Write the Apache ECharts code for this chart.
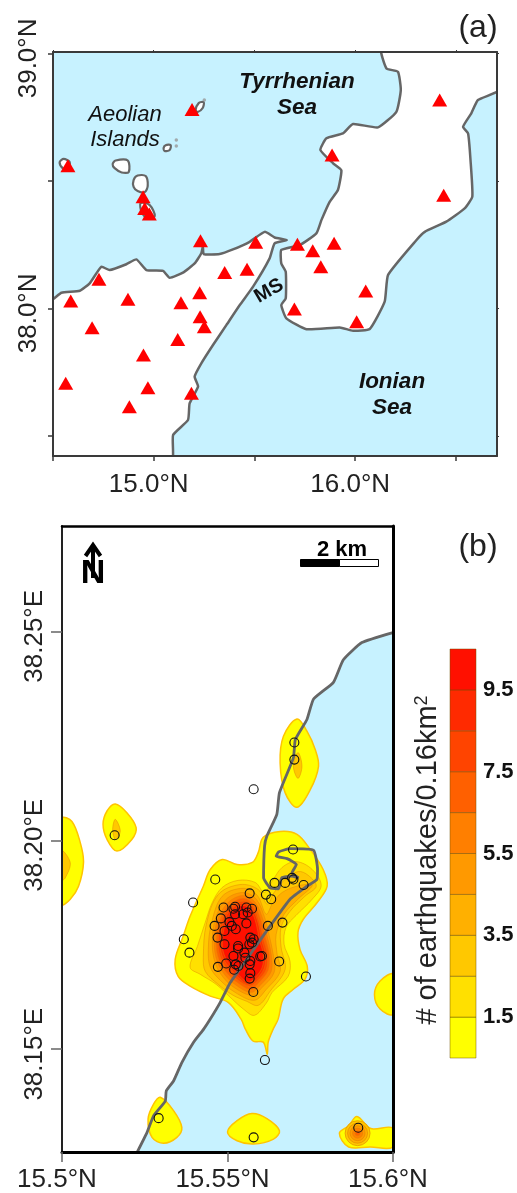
<!DOCTYPE html>
<html><head><meta charset="utf-8">
<style>html,body{margin:0;padding:0;background:#fff}#c{width:517px;height:1193px}</style>
<script src="https://cdn.jsdelivr.net/npm/echarts@6/dist/echarts.min.js"></script>
</head><body><div id="c"></div>
<script>
// ---------- panel (a): regional map ----------
const stationsA = [[16.419,38.817],[16.439,38.444],[15.885,38.601],[15.190,38.780],[14.574,38.559],[14.947,38.438],[14.955,38.392],[14.978,38.370],[15.232,38.265],[15.506,38.259],[15.713,38.251],[15.789,38.226],[15.895,38.255],[15.829,38.163],[16.052,38.068],[15.698,37.997],[16.007,37.947],[14.728,38.114],[14.588,38.029],[14.872,38.036],[15.135,38.022],[15.228,38.061],[15.352,38.141],[15.463,38.153],[15.230,37.967],[15.251,37.928],[15.119,37.878],[14.694,37.924],[14.949,37.817],[14.563,37.706],[14.971,37.689],[15.187,37.667],[14.879,37.614]];
const sicily = [[14.500,38.036],[14.542,38.061],[14.633,38.069],[14.682,38.098],[14.740,38.163],[14.781,38.150],[14.864,38.173],[14.914,38.192],[14.964,38.150],[15.046,38.147],[15.079,38.120],[15.145,38.140],[15.203,38.176],[15.236,38.216],[15.244,38.242],[15.248,38.213],[15.327,38.213],[15.393,38.231],[15.476,38.261],[15.551,38.300],[15.600,38.278],[15.661,38.268],[15.600,38.255],[15.575,38.196],[15.493,38.085],[15.427,38.013],[15.361,37.935],[15.294,37.856],[15.236,37.784],[15.203,37.732],[15.220,37.693],[15.178,37.627],[15.170,37.562],[15.096,37.503],[15.088,37.40],[14.48,37.40],[14.48,38.036]];
const calabria = [[16.130,39.02],[16.155,38.941],[16.212,38.928],[16.226,38.856],[16.204,38.771],[16.113,38.710],[15.989,38.723],[15.939,38.686],[15.857,38.667],[15.827,38.621],[15.890,38.569],[15.931,38.542],[15.914,38.464],[15.873,38.418],[15.832,38.346],[15.807,38.294],[15.724,38.248],[15.633,38.229],[15.633,38.176],[15.655,38.144],[15.655,38.039],[15.633,38.013],[15.658,37.961],[15.758,37.918],[15.923,37.925],[15.989,37.912],[16.072,37.919],[16.146,38.026],[16.163,38.131],[16.304,38.268],[16.345,38.300],[16.452,38.340],[16.543,38.392],[16.581,38.438],[16.572,38.582],[16.560,38.686],[16.535,38.712],[16.576,38.765],[16.609,38.817],[16.720,38.858],[16.720,39.02]];
const islands = [
  [[14.533,38.574],[14.553,38.586],[14.583,38.574],[14.573,38.542],[14.548,38.550]],
  [[14.796,38.566],[14.811,38.580],[14.871,38.580],[14.876,38.535],[14.841,38.533],[14.806,38.550]],
  [[14.900,38.503],[14.920,38.521],[14.960,38.519],[14.970,38.480],[14.955,38.456],[14.920,38.460],[14.900,38.476]],
  [[14.935,38.413],[14.980,38.405],[15.005,38.362],[14.970,38.354],[14.940,38.378]],
  [[15.049,38.629],[15.059,38.640],[15.084,38.640],[15.079,38.621],[15.054,38.617]],
  [[15.208,38.778],[15.223,38.805],[15.248,38.809],[15.243,38.786],[15.218,38.770]]
];
const islets = [[15.112,38.660],[15.112,38.637],[15.251,38.817]];
const xTicksA = [14.5,15,15.5,16,16.5], xLabelsA = [15,16];
const yTicksA = [37.5,38,38.5,39], yLabelsA = [38,39];

// ---------- panel (b): earthquake density ----------
const coastB = [[15.6000,38.2497],[15.5906,38.2473],[15.5850,38.2432],[15.5820,38.2378],[15.5760,38.2338],[15.5740,38.2289],[15.5705,38.2241],[15.5699,38.2197],[15.5657,38.2114],[15.5649,38.2062],[15.5619,38.2010],[15.5612,38.1986],[15.5609,38.1910],[15.5629,38.1886],[15.5654,38.1884],[15.5664,38.1910],[15.5695,38.1914],[15.5715,38.1910],[15.5695,38.1922],[15.5708,38.1942],[15.5680,38.1956],[15.5647,38.1962],[15.5654,38.1972],[15.5689,38.1980],[15.5760,38.1976],[15.5772,38.1930],[15.5770,38.1906],[15.5740,38.1890],[15.5689,38.1859],[15.5629,38.1795],[15.5579,38.1739],[15.5544,38.1699],[15.5508,38.1659],[15.5478,38.1612],[15.5448,38.1572],[15.5428,38.1548],[15.5397,38.1516],[15.5362,38.1468],[15.5337,38.1424],[15.5315,38.1400],[15.5312,38.1376],[15.5277,38.1341],[15.5257,38.1301],[15.5228,38.1255]];
const landCornersB = [[15.49,38.1255],[15.49,38.285],[15.61,38.285],[15.61,38.2497]];
const quakes = [[15.5698,38.1978],[15.5463,38.1906],[15.5642,38.1898],[15.5674,38.1898],[15.5699,38.1906],[15.5695,38.1910],[15.5730,38.1893],[15.5567,38.1873],[15.5616,38.1870],[15.5632,38.1859],[15.5396,38.1851],[15.5488,38.1839],[15.5518,38.1836],[15.5523,38.1841],[15.5523,38.1823],[15.5547,38.1823],[15.5561,38.1827],[15.5557,38.1839],[15.5574,38.1836],[15.5480,38.1813],[15.5506,38.1804],[15.5513,38.1795],[15.5461,38.1795],[15.5525,38.1787],[15.5491,38.1783],[15.5557,38.1801],[15.5622,38.1795],[15.5666,38.1803],[15.5470,38.1767],[15.5569,38.1767],[15.5579,38.1763],[15.5491,38.1751],[15.5566,38.1751],[15.5574,38.1755],[15.5368,38.1763],[15.5385,38.1731],[15.5532,38.1747],[15.5532,38.1741],[15.5518,38.1723],[15.5551,38.1731],[15.5599,38.1722],[15.5604,38.1723],[15.5569,38.1711],[15.5554,38.1719],[15.5656,38.1710],[15.5471,38.1697],[15.5496,38.1705],[15.5525,38.1703],[15.5533,38.1699],[15.5520,38.1690],[15.5567,38.1703],[15.5569,38.1682],[15.5567,38.1669],[15.5737,38.1674],[15.5578,38.1637],[15.5702,38.2234],[15.5702,38.2193],[15.5579,38.2122],[15.5159,38.2012],[15.5613,38.1474],[15.5292,38.1335],[15.5579,38.1289],[15.5895,38.1312]];
const levelColors = ['#FFFF00','#FFE000','#FFC800','#FFB000','#FF9900','#FF7F00','#FF6000','#FF4400','#FF2A00','#FF1000'];
// outer (level 0) patches
const level0 = [
 [[15.5502,38.1612],[15.5448,38.1627],[15.5387,38.1651],[15.5351,38.1674],[15.5342,38.1715],[15.5366,38.1770],[15.5387,38.1818],[15.5427,38.1890],[15.5448,38.1930],[15.5484,38.1954],[15.5529,38.1942],[15.5575,38.1947],[15.5593,38.1971],[15.5608,38.2007],[15.5659,38.2021],[15.5710,38.2014],[15.5750,38.1978],[15.5789,38.1930],[15.5801,38.1890],[15.5771,38.1851],[15.5729,38.1811],[15.5713,38.1780],[15.5719,38.1739],[15.5741,38.1698],[15.5734,38.1667],[15.5698,38.1643],[15.5668,38.1620],[15.5653,38.1572],[15.5638,38.1548],[15.5623,38.1517],[15.5620,38.1488],[15.5608,38.1517],[15.5578,38.1519],[15.5554,38.1548],[15.5541,38.1572]],
 [[15.5710,38.2290],[15.5740,38.2261],[15.5765,38.2217],[15.5775,38.2177],[15.5750,38.2121],[15.5710,38.2079],[15.5674,38.2114],[15.5659,38.2185],[15.5669,38.2249]],
 [[15.5161,38.2087],[15.5196,38.2066],[15.5224,38.2030],[15.5211,38.2002],[15.5166,38.1974],[15.5136,38.2002],[15.5124,38.2038],[15.5136,38.2070]],
 [[15.5000,38.2052],[15.5030,38.2045],[15.5055,38.1995],[15.5065,38.1947],[15.5050,38.1890],[15.5025,38.1859],[15.5000,38.1847]],
 [[15.6000,38.1679],[15.5961,38.1663],[15.5944,38.1631],[15.5961,38.1596],[15.6000,38.1584]],
 [[15.5297,38.1385],[15.5337,38.1353],[15.5362,38.1313],[15.5347,38.1289],[15.5307,38.1275],[15.5272,38.1289],[15.5260,38.1333],[15.5277,38.1369]],
 [[15.5574,38.1346],[15.5619,38.1334],[15.5657,38.1305],[15.5639,38.1285],[15.5579,38.1273],[15.5529,38.1281],[15.5500,38.1302],[15.5529,38.1329]],
 [[15.5891,38.1339],[15.5926,38.1313],[15.5941,38.1309],[15.6000,38.1311],[15.6000,38.1266],[15.5931,38.1266],[15.5866,38.1266],[15.5838,38.1299],[15.5866,38.1317]]
];
const level2patches = [
 [[15.5713,38.2210],[15.5725,38.2177],[15.5713,38.2148],[15.5699,38.2177]],
 [[15.5161,38.2050],[15.5176,38.2022],[15.5161,38.2002],[15.5153,38.2026]],
 [[15.5000,38.1974],[15.5025,38.1946],[15.5010,38.1910],[15.5000,38.1905]]
];
const level1main = [[15.5387,38.1696],[15.5409,38.1746],[15.5433,38.1804],[15.5454,38.1851],[15.5484,38.1887],[15.5532,38.1904],[15.5584,38.1899],[15.5611,38.1875],[15.5635,38.1902],[15.5665,38.1935],[15.5707,38.1949],[15.5756,38.1930],[15.5783,38.1892],[15.5756,38.1859],[15.5707,38.1820],[15.5677,38.1792],[15.5671,38.1751],[15.5689,38.1710],[15.5683,38.1674],[15.5635,38.1636],[15.5617,38.1610],[15.5581,38.1581],[15.5548,38.1596],[15.5514,38.1620],[15.5466,38.1655],[15.5418,38.1679]];
const level2main = [[15.5427,38.1720],[15.5436,38.1799],[15.5472,38.1870],[15.5538,38.1894],[15.5593,38.1882],[15.5620,38.1847],[15.5641,38.1875],[15.5671,38.1904],[15.5713,38.1925],[15.5744,38.1916],[15.5768,38.1890],[15.5734,38.1866],[15.5689,38.1830],[15.5662,38.1792],[15.5662,38.1744],[15.5674,38.1691],[15.5629,38.1639],[15.5593,38.1605],[15.5557,38.1615],[15.5517,38.1629],[15.5472,38.1655],[15.5433,38.1686]];
const level3main = [[15.5442,38.1739],[15.5451,38.1799],[15.5484,38.1866],[15.5548,38.1885],[15.5590,38.1868],[15.5617,38.1823],[15.5635,38.1847],[15.5665,38.1875],[15.5719,38.1892],[15.5756,38.1892],[15.5713,38.1859],[15.5671,38.1823],[15.5647,38.1775],[15.5650,38.1727],[15.5659,38.1686],[15.5617,38.1643],[15.5581,38.1617],[15.5523,38.1636],[15.5478,38.1665],[15.5448,38.1696]];
const level4main = [[15.5454,38.1751],[15.5463,38.1811],[15.5496,38.1859],[15.5548,38.1875],[15.5587,38.1859],[15.5614,38.1811],[15.5626,38.1772],[15.5638,38.1727],[15.5641,38.1684],[15.5605,38.1648],[15.5575,38.1629],[15.5523,38.1646],[15.5487,38.1672],[15.5463,38.1706]];
const level5main = [[15.5460,38.1751],[15.5469,38.1808],[15.5502,38.1851],[15.5548,38.1868],[15.5584,38.1851],[15.5608,38.1808],[15.5620,38.1770],[15.5632,38.1727],[15.5632,38.1686],[15.5599,38.1653],[15.5572,38.1636],[15.5526,38.1653],[15.5493,38.1677],[15.5469,38.1710]];
const level6main = [[15.5466,38.1751],[15.5475,38.1806],[15.5505,38.1844],[15.5548,38.1861],[15.5581,38.1844],[15.5602,38.1806],[15.5614,38.1768],[15.5626,38.1727],[15.5623,38.1689],[15.5593,38.1658],[15.5569,38.1643],[15.5529,38.1660],[15.5499,38.1682],[15.5475,38.1713]];
const level7main = [[15.5472,38.1751],[15.5481,38.1804],[15.5508,38.1839],[15.5548,38.1854],[15.5578,38.1839],[15.5596,38.1804],[15.5608,38.1765],[15.5620,38.1727],[15.5617,38.1691],[15.5590,38.1663],[15.5566,38.1651],[15.5532,38.1665],[15.5505,38.1686],[15.5481,38.1715]];
const level8main = [[15.5478,38.1751],[15.5487,38.1801],[15.5511,38.1835],[15.5548,38.1849],[15.5575,38.1835],[15.5593,38.1801],[15.5602,38.1765],[15.5614,38.1727],[15.5611,38.1694],[15.5587,38.1667],[15.5563,38.1655],[15.5535,38.1670],[15.5511,38.1691],[15.5487,38.1717]];
const level9main = [[15.5484,38.1751],[15.5493,38.1799],[15.5514,38.1830],[15.5548,38.1844],[15.5572,38.1830],[15.5587,38.1799],[15.5596,38.1763],[15.5608,38.1727],[15.5605,38.1696],[15.5584,38.1672],[15.5563,38.1660],[15.5538,38.1674],[15.5514,38.1696],[15.5493,38.1720]];
const spotCentre = [15.5893,38.1299];
const spotLevels = [2,3,4,5,6];
const xTicksB = [15.5,15.55,15.6], yTicksB = [38.15,38.2,38.25];

// ---------- colour bar ----------
const barLevels = [0.5,1.5,2.5,3.5,4.5,5.5,6.5,7.5,8.5,9.5];
const barTickLabels = [1.5,3.5,5.5,7.5,9.5];

const sea = '#C7F2FF', coastCol = '#666666', frameCol = '#3a3a3a';
const latFmt = v => v.toFixed(1) + '°N';

const contourShapes = [];
level0.forEach(p => contourShapes.push({l:0,p}));
contourShapes.push({l:1,p:level1main});
level2patches.forEach(p => contourShapes.push({l:2,p}));
[level2main,level3main,level4main,level5main,level6main,level7main,level8main,level9main]
  .forEach((p,i) => contourShapes.push({l:i+2,p}));

function polygonSeries(name, polys, xi, yi, z, styleFn, smooth){
  return {
    type:'custom', name, xAxisIndex:xi, yAxisIndex:yi, z, clip:true, silent:true,
    coordinateSystem:'cartesian2d',
    data: polys.map((_,i)=>[polys[i][0][0],polys[i][0][1]]),
    renderItem(params,api){
      const pts = polys[params.dataIndex].map(c=>api.coord(c));
      const cs = params.coordSys;
      return {type:'group',clipPath:{type:'rect',shape:{x:cs.x,y:cs.y,width:cs.width,height:cs.height}},
        children:[{type:'polygon',shape:{points:pts,smooth:smooth||0},style:styleFn(params.dataIndex)}]};
    }
  };
}

const axBase = {type:'value',splitLine:{show:false}};
const frame = (col,w)=>({show:true,onZero:false,lineStyle:{color:col,width:w}});
const labelFont = {fontFamily:'Liberation Sans',fontSize:26,color:'#222'};

const option = {
  animation:false, backgroundColor:'#fff',
  grid:[
    {left:53,top:52,width:444,height:404,show:true,backgroundColor:sea,borderWidth:0},
    {left:62,top:526,width:331,height:627,show:true,backgroundColor:sea,borderWidth:0},
    {left:450,top:649,width:26,height:409,show:false}
  ],
  xAxis:[
    {...axBase,gridIndex:0,min:14.5,max:16.7035,position:'bottom',z:10,axisLine:frame(frameCol,2),
     axisTick:{show:true,length:5,lineStyle:{color:frameCol,width:1.5},customValues:xTicksA},
     axisLabel:{...labelFont,margin:16,padding:[0,10,0,0],customValues:xLabelsA,formatter:latFmt}},
    {...axBase,gridIndex:0,min:14.5,max:16.7035,position:'top',z:10,axisLine:frame(frameCol,2),
     axisTick:{show:true,length:2,lineStyle:{color:frameCol,width:1},customValues:xTicksA},axisLabel:{show:false}},
    {...axBase,gridIndex:1,min:15.5,max:15.6,position:'bottom',z:10,axisLine:frame('#000',3),
     axisTick:{show:true,length:10,lineStyle:{color:'#666',width:1.5},customValues:xTicksB},
     axisLabel:{...labelFont,margin:15,padding:[0,10,0,0],customValues:xTicksB,formatter:v=>(+v.toFixed(2))+'°N'}},
    {...axBase,gridIndex:1,min:15.5,max:15.6,position:'top',z:10,axisLine:frame('#000',2.5),axisTick:{show:false},axisLabel:{show:false}},
    {type:'category',gridIndex:2,data:['level'],axisLine:{show:false},axisTick:{show:false},axisLabel:{show:false}}
  ],
  yAxis:[
    {...axBase,gridIndex:0,min:37.4208,max:39.0055,position:'left',z:10,axisLine:frame(frameCol,2),
     axisTick:{show:true,length:5,lineStyle:{color:frameCol,width:1.5},customValues:yTicksA},
     axisLabel:{...labelFont,rotate:90,margin:11,padding:[0,10,0,0],customValues:yLabelsA,formatter:latFmt}},
    {...axBase,gridIndex:0,min:37.4208,max:39.0055,position:'right',z:10,axisLine:frame(frameCol,2),
     axisTick:{show:true,length:2,lineStyle:{color:frameCol,width:1},customValues:yTicksA},axisLabel:{show:false}},
    {...axBase,gridIndex:1,min:38.1254,max:38.2752,position:'left',z:10,axisLine:frame('#222',2),
     axisTick:{show:true,length:11,lineStyle:{color:'#666',width:1.5},customValues:yTicksB},
     axisLabel:{...labelFont,rotate:90,margin:14,padding:[0,10,0,0],customValues:yTicksB,formatter:v=>v.toFixed(2)+'°E'}},
    {...axBase,gridIndex:1,min:38.1254,max:38.2752,position:'right',z:10,axisLine:frame('#000',3),axisTick:{show:false},axisLabel:{show:false}},
    {...axBase,gridIndex:2,min:0.5,max:10.5,position:'right',axisLine:{show:false},axisTick:{show:false},
     axisLabel:{fontFamily:'Liberation Sans',fontWeight:'bold',fontSize:22,color:'#111',margin:7,customValues:barTickLabels,formatter:v=>v.toFixed(1)}}
  ],
  series:[
    polygonSeries('land',[sicily,calabria],0,0,2,()=>({fill:'#fff',stroke:coastCol,lineWidth:2.5}),0.15),
    polygonSeries('islands',islands,0,0,3,()=>({fill:'#fff',stroke:coastCol,lineWidth:2.2}),0.3),
    {type:'scatter',name:'islets',xAxisIndex:0,yAxisIndex:0,z:3,symbolSize:3.5,silent:true,data:islets,
     itemStyle:{color:'#999',borderColor:'#999',borderWidth:0}},
    {type:'scatter',name:'stations',xAxisIndex:0,yAxisIndex:0,z:4,symbol:'triangle',symbolSize:[15,13],silent:true,data:stationsA,
     itemStyle:{color:'#FF0000',opacity:1}},

    polygonSeries('land b',[coastB.concat(landCornersB)],2,2,2,()=>({fill:'#fff'})),
    polygonSeries('contours',contourShapes.map(s=>s.p),2,2,3,i=>{
      const l = contourShapes[i].l;
      return {fill:levelColors[l],stroke:l===0?'#FFC400':'rgba(225,130,0,0.45)',lineWidth:l===0?1.5:1};
    },0.35),
    {type:'scatter',name:'spot',xAxisIndex:2,yAxisIndex:2,z:4,silent:true,clip:true,
     data:spotLevels.map((l,i)=>({value:spotCentre,symbolSize:[25,20,15,10,5][i],itemStyle:{color:levelColors[l],opacity:1,borderColor:'rgba(225,130,0,0.6)',borderWidth:1}}))},
    {type:'line',name:'coast b',xAxisIndex:2,yAxisIndex:2,z:5,data:coastB,showSymbol:false,silent:true,clip:true,smooth:0.15,
     lineStyle:{color:coastCol,width:2.8}},
    {type:'scatter',name:'quakes',xAxisIndex:2,yAxisIndex:2,z:6,symbolSize:9,silent:true,data:quakes,
     itemStyle:{color:'rgba(0,0,0,0)',borderColor:'#111',borderWidth:1.1,opacity:1}},

    {type:'custom',name:'colour bar',xAxisIndex:4,yAxisIndex:4,z:3,silent:true,
     data:barLevels.map((b,i)=>[0,b,i]),
     renderItem(params,api){
       const i = params.dataIndex, lo = api.coord([0,barLevels[i]]), hi = api.coord([0,barLevels[i]+1]);
       const cs = params.coordSys;
       return {type:'rect',shape:{x:cs.x,y:hi[1],width:cs.width,height:lo[1]-hi[1]},
         style:{fill:levelColors[i],stroke:'rgba(110,80,0,0.6)',lineWidth:0.8}};
     }}
  ],
  graphic:[
    {type:'text',x:478,y:28,z:20,style:{text:'(a)',font:'32px "Liberation Sans"',fill:'#222',align:'center',verticalAlign:'middle'}},
    {type:'text',x:478,y:547,z:20,style:{text:'(b)',font:'32px "Liberation Sans"',fill:'#222',align:'center',verticalAlign:'middle'}},
    {type:'text',x:297,y:95,z:20,style:{text:'Tyrrhenian\nSea',font:'italic bold 22.5px "Liberation Sans"',lineHeight:26,fill:'#111',align:'center',verticalAlign:'middle'}},
    {type:'text',x:125,y:127,z:20,style:{text:'Aeolian\nIslands',font:'italic 22px "Liberation Sans"',lineHeight:25,fill:'#111',align:'center',verticalAlign:'middle'}},
    {type:'text',x:392,y:395,z:20,style:{text:'Ionian\nSea',font:'italic bold 22.5px "Liberation Sans"',lineHeight:26,fill:'#111',align:'center',verticalAlign:'middle'}},
    {type:'text',x:269,y:291,z:20,rotation:Math.PI/6,style:{text:'MS',font:'bold 20px "Liberation Sans"',fill:'#111',align:'center',verticalAlign:'middle'}},
    // north arrow
    {type:'line',z:20,shape:{x1:93,y1:546,x2:93,y2:578},style:{stroke:'#000',lineWidth:4}},
    {type:'polyline',z:20,shape:{points:[[85.5,556],[93,545],[100.5,556]]},style:{stroke:'#000',lineWidth:4,fill:'none'}},
    {type:'text',x:93,y:574,z:20,style:{text:'N',font:'bold 34px "Liberation Sans"',fill:'#000',align:'center',verticalAlign:'middle'}},
    // scale bar
    {type:'rect',z:20,shape:{x:300.5,y:559.5,width:39,height:7},style:{fill:'#000',stroke:'#000',lineWidth:1}},
    {type:'rect',z:20,shape:{x:339.5,y:559.5,width:39,height:7},style:{fill:'#fff',stroke:'#000',lineWidth:1}},
    {type:'text',x:342,y:550,z:20,style:{text:'2 km',font:'bold 22px "Liberation Sans"',fill:'#000',align:'center',verticalAlign:'middle'}},
    // colour-bar title
    {type:'text',x:428,y:860,z:20,rotation:Math.PI/2,style:{
      text:'# of earthquakes/0.16km{s|2}',font:'29px "Liberation Sans"',fill:'#222',align:'center',verticalAlign:'middle',
      rich:{s:{fontSize:18,verticalAlign:'top',fontFamily:'Liberation Sans',fill:'#222',padding:[0,0,10,0]}}}}
  ]
};
const chart = echarts.init(document.getElementById('c'),null,{renderer:'canvas'});
chart.setOption(option);
</script></body></html>
